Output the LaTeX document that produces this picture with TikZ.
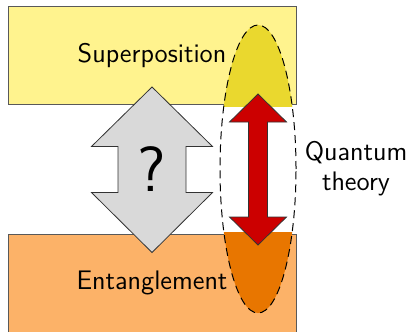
\documentclass[tikz,border=0pt]{standalone}
\usepackage{xcolor}
\usepackage{tikz}
\definecolor{suplight}{RGB}{255,243,142}
\definecolor{supdark}{RGB}{234,216,46}
\definecolor{entlight}{RGB}{252,178,104}
\definecolor{entdark}{RGB}{232,118,0}
\definecolor{qtred}{RGB}{204,0,0}
\definecolor{qgray}{RGB}{217,217,217}

\begin{document}
\begin{tikzpicture}[x=0.5pt, y=-0.5pt, font=\sffamily\fontsize{13.4}{15}\selectfont]

  \tikzset{box/.style={draw=black!65, line width=0.5pt, minimum width=144pt,
                       minimum height=49pt, inner sep=0pt},
           bigarrow/.style={draw=black!80, line width=0.4pt, line join=miter}}

  \clip (0,0) rectangle (410,331);

  % the two boxes
  \node[box, fill=suplight] (sup) at (152,56) {Superposition};
  \node[box, fill=entlight] (ent) at (152,283) {Entanglement};

  % quantum theory: darker where the ellipse meets the boxes
  \coordinate (qt) at (258,169);
  \begin{scope}
    \clip (qt) ellipse [x radius=19pt, y radius=72pt];
    \fill[supdark] ([shift={(-1pt,1pt)}]sup.north west) rectangle ([shift={(1pt,-1pt)}]sup.south east);
    \fill[entdark] ([shift={(-1pt,1pt)}]ent.north west) rectangle ([shift={(1pt,-1pt)}]ent.south east);
  \end{scope}
  \draw[dash pattern=on 4pt off 2.5pt, line width=0.5pt] (qt) ellipse [x radius=19pt, y radius=72pt];

  % the open question
  \draw[bigarrow, fill=qgray] (152,87) -- (212.5,146.5) -- (186,146.5) -- (186,192.5)
    -- (212.5,192.5) -- (152,252.5) -- (91.5,192.5) -- (118,192.5) -- (118,146.5)
    -- (91.5,146.5) -- cycle;
  \node[font=\sffamily\fontsize{32}{36}\selectfont] (quest) at (152,169) {?};

  % the link given by quantum theory
  \draw[bigarrow, fill=qtred] (258,94) -- (286.5,122) -- (267.5,122) -- (267.5,217)
    -- (286.5,217) -- (258,245) -- (229.5,217) -- (248.5,217) -- (248.5,122)
    -- (229.5,122) -- cycle;
  \node[align=center] (qtlabel) at (356,169) {Quantum\\theory};

\end{tikzpicture}
\end{document}
